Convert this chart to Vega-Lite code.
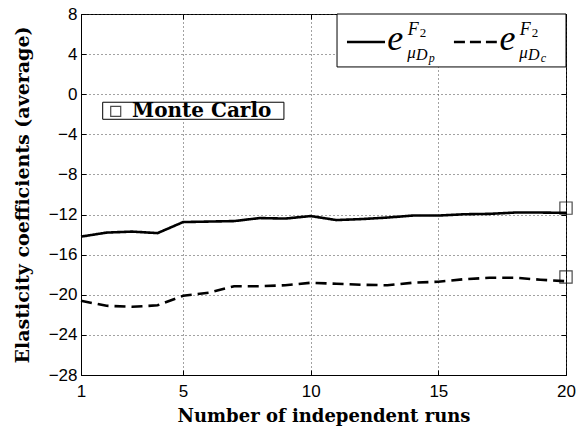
{
  "$schema": "https://vega.github.io/schema/vega-lite/v6.json",
  "width": 485,
  "height": 361,
  "autosize": "none",
  "padding": {"left": 81, "top": 14, "right": 15, "bottom": 52},
  "background": "white",
  "config": {
    "view": {"stroke": "black", "strokeWidth": 1},
    "axis": {
      "domainColor": "black",
      "domainWidth": 1,
      "tickColor": "black",
      "tickSize": -5,
      "labelFont": "Liberation Sans",
      "labelFontSize": 17,
      "labelColor": "black",
      "titleFont": "DejaVu Serif",
      "titleFontWeight": "bold",
      "titleFontSize": 18,
      "titleColor": "black",
      "gridColor": "#444",
      "gridDash": [1, 3],
      "gridWidth": 1,
      "gridOpacity": 1
    }
  },
  "datasets": {
    "runs": [
      {"run": 1, "series": "Dp", "value": -14.2},
      {"run": 2, "series": "Dp", "value": -13.8},
      {"run": 3, "series": "Dp", "value": -13.7},
      {"run": 4, "series": "Dp", "value": -13.85},
      {"run": 5, "series": "Dp", "value": -12.75},
      {"run": 6, "series": "Dp", "value": -12.7},
      {"run": 7, "series": "Dp", "value": -12.65},
      {"run": 8, "series": "Dp", "value": -12.35},
      {"run": 9, "series": "Dp", "value": -12.4},
      {"run": 10, "series": "Dp", "value": -12.15},
      {"run": 11, "series": "Dp", "value": -12.55},
      {"run": 12, "series": "Dp", "value": -12.45},
      {"run": 13, "series": "Dp", "value": -12.3},
      {"run": 14, "series": "Dp", "value": -12.1},
      {"run": 15, "series": "Dp", "value": -12.1},
      {"run": 16, "series": "Dp", "value": -11.97},
      {"run": 17, "series": "Dp", "value": -11.93},
      {"run": 18, "series": "Dp", "value": -11.8},
      {"run": 19, "series": "Dp", "value": -11.8},
      {"run": 20, "series": "Dp", "value": -11.83},
      {"run": 1, "series": "Dc", "value": -20.6},
      {"run": 2, "series": "Dc", "value": -21.1},
      {"run": 3, "series": "Dc", "value": -21.2},
      {"run": 4, "series": "Dc", "value": -21.05},
      {"run": 5, "series": "Dc", "value": -20.1},
      {"run": 6, "series": "Dc", "value": -19.8},
      {"run": 7, "series": "Dc", "value": -19.15},
      {"run": 8, "series": "Dc", "value": -19.15},
      {"run": 9, "series": "Dc", "value": -19.05},
      {"run": 10, "series": "Dc", "value": -18.8},
      {"run": 11, "series": "Dc", "value": -18.9},
      {"run": 12, "series": "Dc", "value": -19.0},
      {"run": 13, "series": "Dc", "value": -19.05},
      {"run": 14, "series": "Dc", "value": -18.8},
      {"run": 15, "series": "Dc", "value": -18.7},
      {"run": 16, "series": "Dc", "value": -18.45},
      {"run": 17, "series": "Dc", "value": -18.3},
      {"run": 18, "series": "Dc", "value": -18.3},
      {"run": 19, "series": "Dc", "value": -18.5},
      {"run": 20, "series": "Dc", "value": -18.65}
    ],
    "montecarlo": [
      {"run": 20, "series": "Dp", "value": -11.36},
      {"run": 20, "series": "Dc", "value": -18.23}
    ],
    "one": [{}]
  },
  "resolve": {"axis": {"x": "independent", "y": "independent"}},
  "layer": [
    {
      "layer": [
        {
          "data": {"name": "runs"},
          "mark": {"type": "line", "color": "black", "strokeWidth": 2.6},
          "encoding": {
            "x": {
              "field": "run", "type": "quantitative",
              "scale": {"domain": [1, 20], "nice": false, "zero": false},
              "axis": {"values": [1, 5, 10, 15, 20], "title": "Number of independent runs", "labelPadding": 13, "titlePadding": 8, "labelFlush": false}
            },
            "y": {
              "field": "value", "type": "quantitative",
              "scale": {"domain": [-28, 8], "nice": false, "zero": false},
              "axis": {"values": [-28, -24, -20, -16, -12, -8, -4, 0, 4, 8], "title": "Elasticity coefficients (average)", "titleFontSize": 19, "labelPadding": 9, "titlePadding": 16, "labelExpr": "replace(datum.label, '-', '\u2212')"}
            },
            "strokeDash": {
              "field": "series", "type": "nominal",
              "scale": {"domain": ["Dp", "Dc"], "range": [[1, 0], [11, 6]]},
              "legend": null
            }
          }
        },
        {
          "data": {"name": "one"},
          "mark": {"type": "rect", "fill": "white", "stroke": "black", "strokeWidth": 1},
          "encoding": {
            "x": {"datum": 11.03}, "x2": {"datum": 20},
            "y": {"datum": 8}, "y2": {"datum": 2.72}
          }
        },
        {
          "data": {"name": "one"},
          "mark": {"type": "rule", "color": "black", "strokeWidth": 2.6},
          "encoding": {"x": {"datum": 11.42}, "x2": {"datum": 12.91}, "y": {"datum": 5.21}}
        },
        {
          "data": {"name": "one"},
          "mark": {"type": "rule", "color": "black", "strokeWidth": 2.6, "strokeDash": [11, 5]},
          "encoding": {"x": {"datum": 15.61}, "x2": {"datum": 17.29}, "y": {"datum": 5.21}}
        },
        {
          "data": {"name": "one"},
          "mark": {"type": "text", "text": "e", "font": "Liberation Serif", "fontStyle": "italic", "fontSize": 36, "align": "left", "baseline": "alphabetic"},
          "encoding": {"x": {"datum": 13.0}, "y": {"datum": 4.41}}
        },
        {
          "data": {"name": "one"},
          "mark": {"type": "text", "text": "F", "font": "Liberation Serif", "fontStyle": "italic", "fontSize": 18, "align": "left", "baseline": "alphabetic"},
          "encoding": {"x": {"datum": 13.8}, "y": {"datum": 5.91}}
        },
        {
          "data": {"name": "one"},
          "mark": {"type": "text", "text": "2", "font": "Liberation Serif", "fontSize": 13, "align": "left", "baseline": "alphabetic"},
          "encoding": {"x": {"datum": 14.27}, "y": {"datum": 5.71}}
        },
        {
          "data": {"name": "one"},
          "mark": {"type": "text", "text": "μ", "font": "Liberation Serif", "fontStyle": "italic", "fontSize": 17, "align": "left", "baseline": "alphabetic"},
          "encoding": {"x": {"datum": 13.78}, "y": {"datum": 3.61}}
        },
        {
          "data": {"name": "one"},
          "mark": {"type": "text", "text": "D", "font": "Liberation Serif", "fontStyle": "italic", "fontSize": 16, "align": "left", "baseline": "alphabetic"},
          "encoding": {"x": {"datum": 14.12}, "y": {"datum": 3.41}}
        },
        {
          "data": {"name": "one"},
          "mark": {"type": "text", "text": "p", "font": "Liberation Serif", "fontStyle": "italic", "fontSize": 12, "align": "left", "baseline": "alphabetic"},
          "encoding": {"x": {"datum": 14.62}, "y": {"datum": 3.21}}
        },
        {
          "data": {"name": "one"},
          "mark": {"type": "text", "text": "e", "font": "Liberation Serif", "fontStyle": "italic", "fontSize": 36, "align": "left", "baseline": "alphabetic"},
          "encoding": {"x": {"datum": 17.39}, "y": {"datum": 4.41}}
        },
        {
          "data": {"name": "one"},
          "mark": {"type": "text", "text": "F", "font": "Liberation Serif", "fontStyle": "italic", "fontSize": 18, "align": "left", "baseline": "alphabetic"},
          "encoding": {"x": {"datum": 18.19}, "y": {"datum": 5.91}}
        },
        {
          "data": {"name": "one"},
          "mark": {"type": "text", "text": "2", "font": "Liberation Serif", "fontSize": 13, "align": "left", "baseline": "alphabetic"},
          "encoding": {"x": {"datum": 18.66}, "y": {"datum": 5.71}}
        },
        {
          "data": {"name": "one"},
          "mark": {"type": "text", "text": "μ", "font": "Liberation Serif", "fontStyle": "italic", "fontSize": 17, "align": "left", "baseline": "alphabetic"},
          "encoding": {"x": {"datum": 18.17}, "y": {"datum": 3.61}}
        },
        {
          "data": {"name": "one"},
          "mark": {"type": "text", "text": "D", "font": "Liberation Serif", "fontStyle": "italic", "fontSize": 16, "align": "left", "baseline": "alphabetic"},
          "encoding": {"x": {"datum": 18.51}, "y": {"datum": 3.41}}
        },
        {
          "data": {"name": "one"},
          "mark": {"type": "text", "text": "c", "font": "Liberation Serif", "fontStyle": "italic", "fontSize": 12, "align": "left", "baseline": "alphabetic"},
          "encoding": {"x": {"datum": 19.01}, "y": {"datum": 3.21}}
        },
        {
          "data": {"name": "one"},
          "mark": {"type": "rect", "fill": "white", "stroke": "black", "strokeWidth": 1},
          "encoding": {
            "x": {"datum": 1.85}, "x2": {"datum": 8.95},
            "y": {"datum": -0.8}, "y2": {"datum": -2.5}
          }
        },
        {
          "data": {"name": "one"},
          "mark": {"type": "point", "shape": "square", "filled": false, "color": "black", "size": 100, "strokeWidth": 1.2},
          "encoding": {"x": {"datum": 2.36}, "y": {"datum": -1.72}}
        },
        {
          "data": {"name": "one"},
          "mark": {"type": "text", "text": "Monte Carlo", "font": "DejaVu Serif", "fontWeight": "bold", "fontSize": 20, "align": "left", "baseline": "middle"},
          "encoding": {"x": {"datum": 3.0}, "y": {"datum": -1.65}}
        }
      ]
    },
    {
      "data": {"name": "montecarlo"},
      "mark": {"type": "point", "shape": "square", "filled": false, "color": "black", "size": 150, "strokeWidth": 1.2},
      "encoding": {
        "x": {"field": "run", "type": "quantitative", "axis": {"orient": "top", "values": [1, 5, 10, 15, 20], "labels": false, "grid": false, "domain": false, "title": null}},
        "y": {"field": "value", "type": "quantitative", "axis": {"orient": "right", "values": [-28, -24, -20, -16, -12, -8, -4, 0, 4, 8], "labels": false, "grid": false, "domain": false, "title": null}}
      }
    }
  ]
}
